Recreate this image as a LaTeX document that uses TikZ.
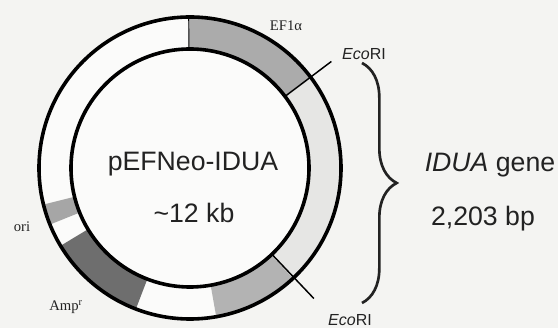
\documentclass[tikz,border=0pt]{standalone}
\usepackage{fontspec}
\setmainfont{Liberation Serif}
\setsansfont{Liberation Sans}
\usetikzlibrary{calc,decorations.pathreplacing}
\definecolor{bg}{HTML}{F4F4F2}
\definecolor{ringwhite}{HTML}{FBFBFA}
\definecolor{efgray}{HTML}{ABABAB}
\definecolor{idualight}{HTML}{E6E6E4}
\definecolor{lowgray}{HTML}{B3B3B3}
\definecolor{ampdark}{HTML}{6E6E6E}
\definecolor{origray}{HTML}{A6A6A6}
\definecolor{ink}{HTML}{222222}
\newcommand{\ringseg}[3]{\fill[#1] ($(C)+(#2:151)$) arc[start angle=#2,end angle=#3,radius=151] -- ($(C)+(#3:119)$) arc[start angle=#3,end angle=#2,radius=119] -- cycle;}
\tikzset{
  ringline/.style={line width=2.7pt, draw=black},
  tickline/.style={line width=1.1pt, draw=black},
  biglabel/.style={font=\sffamily\fontsize{20}{24}\selectfont, text=ink, inner sep=0pt},
  ecolabel/.style={font=\sffamily\fontsize{12}{14}\selectfont, text=ink, inner sep=0pt},
  seriflabel/.style={font=\rmfamily\fontsize{11}{13}\selectfont, text=ink, inner sep=0pt}
}
\begin{document}
\begin{tikzpicture}[x=0.75pt,y=0.75pt]
\fill[bg] (0,0) rectangle (558,328);
\useasboundingbox (0,0) rectangle (558,328);
\coordinate (C) at (190,160);
% ring background
\fill[ringwhite] (C) circle[radius=151];
% segments
\ringseg{efgray}{37}{90.5}
\ringseg{idualight}{-47}{37}
\ringseg{lowgray}{-80}{-47}
\ringseg{ampdark}{211}{249}
\ringseg{origray}{194}{202}
% boundaries
\draw[line width=0.7pt] ($(C)+(90.5:119)$) -- ($(C)+(90.5:151)$);
\coordinate (t1a) at ($(C)+(37:119)$);
\coordinate (t1b) at ($(C)+(37:177)$);
\coordinate (t2a) at ($(C)+(-46.5:119)$);
\coordinate (t2b) at ($(C)+(-46.5:180)$);
\draw[tickline] (t1a) -- (t1b);
\draw[tickline] (t2a) -- (t2b);
% circles
\draw[ringline] (C) circle[radius=151];
\draw[ringline] (C) circle[radius=119];
% labels
\node[biglabel] (name) at (193,164) {pEFNeo-IDUA};
\node[biglabel] (size) at (194,115) {\textasciitilde12 kb};
\node[seriflabel] (ef) at (286,302) {EF1α};
\node[ecolabel] (eco1) at (364,274) {\textit{Eco}RI};
\node[ecolabel, anchor=base] (eco2) at (350,2) {\textit{Eco}RI};
\node[seriflabel] (ori) at (22,101) {ori};
\node[seriflabel] (amp) at (66,21) {Amp\textsuperscript{r}};
% brace
\coordinate (bt) at (362,265);
\coordinate (bb) at (362,25);
\draw[line width=2pt, ink, decorate, decoration={brace, amplitude=26}] (bt) -- (bb);
\node[biglabel] (gene) at (490,163) {\textit{IDUA} gene};
\node[biglabel] (bp) at (483,109) {2,203 bp};
\end{tikzpicture}
\end{document}
